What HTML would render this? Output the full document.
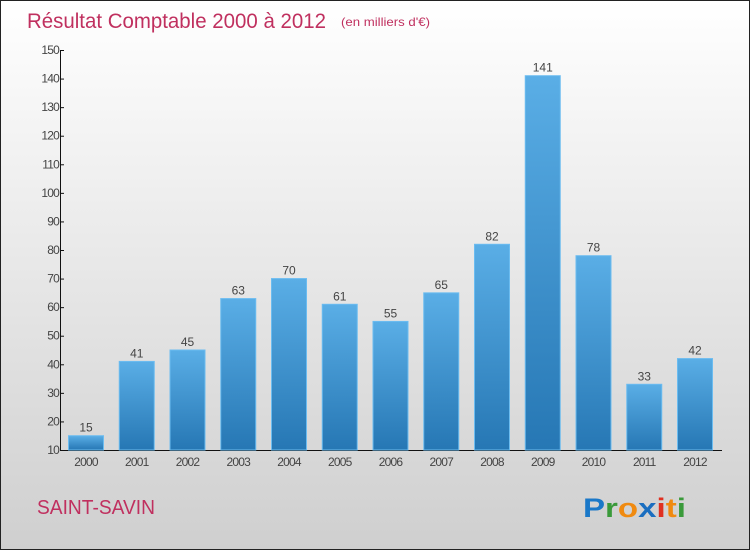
<!DOCTYPE html>
<html><head><meta charset="utf-8"><style>
html,body{margin:0;padding:0}
body{width:750px;height:550px;overflow:hidden;font-family:"Liberation Sans",sans-serif}
#wrap{position:relative;width:748px;height:548px;border:1px solid #222;background:linear-gradient(#ffffff,#cfcfcf)}
</style></head><body>
<div id="wrap">
<svg id="chart" width="748" height="548">
<defs>
<linearGradient id="bg" x1="0" y1="0" x2="0" y2="1"><stop offset="0" stop-color="#5aaee6"/><stop offset="1" stop-color="#2677b4"/></linearGradient>
</defs>
<text x="26" y="27" font-size="21" fill="#c0305f" textLength="299" lengthAdjust="spacingAndGlyphs">Résultat Comptable 2000 à 2012</text>
<text x="340" y="25" font-size="12" fill="#c0305f" textLength="89" lengthAdjust="spacingAndGlyphs">(en milliers d'€)</text>
<text x="36" y="513" font-size="20" fill="#c0305f" textLength="118" lengthAdjust="spacingAndGlyphs">SAINT-SAVIN</text>
<g font-size="27" font-weight="bold">
<text x="582" y="516" textLength="103" lengthAdjust="spacingAndGlyphs"><tspan fill="#1a78c8">P</tspan><tspan fill="#3a9a3a">r</tspan><tspan fill="#f08a10">o</tspan><tspan fill="#1a6ec0">x</tspan><tspan fill="#e03020">i</tspan><tspan fill="#f08a10">t</tspan><tspan fill="#3a9a3a">i</tspan></text>
</g>
<g id="axes"></g>
<g id="bars"></g>
</svg>
</div>
<script>
const years=["2000","2001","2002","2003","2004","2005","2006","2007","2008","2009","2010","2011","2012"];
const values=[15,41,45,63,70,61,55,65,82,141,78,33,42];
const yTicks=[10,20,30,40,50,60,70,80,90,100,110,120,130,140,150];
const NS="http://www.w3.org/2000/svg";
const y0=449,yMin=10,yMax=150,yTop=49;
function yS(v){return y0-(v-yMin)/(yMax-yMin)*(y0-yTop);}
function xS(i){return 85+i*50.75;}
const axes=document.getElementById('axes'),bars=document.getElementById('bars');
function mk(tag,attrs,parent){const e=document.createElementNS(NS,tag);for(const k in attrs)e.setAttribute(k,attrs[k]);parent.appendChild(e);return e;}
let l=mk('line',{x1:59.5,y1:yTop,x2:59.5,y2:y0,stroke:'#111'},axes);


l=mk('line',{x1:59,y1:y0+0.5,x2:721,y2:y0+0.5,stroke:'#111'},axes);


yTicks.forEach(v=>{
  const t=mk('line',{x1:59,y1:yS(v)+0.5,x2:63,y2:yS(v)+0.5,stroke:'#111'},axes);
  
  
  const tx=mk('text',{x:58,y:yS(v)+4,'font-size':12,fill:'#444','text-anchor':'end','letter-spacing':'-0.8'},axes);
  tx.textContent=v;
  
  
});
years.forEach((yr,i)=>{
  const x=xS(i),v=values[i];
  const r=mk('rect',{x:x-17.5,y:yS(v),width:35,height:y0-yS(v),fill:'url(#bg)',stroke:'#6bbcf0','stroke-width':1},bars);
  
  
  const lb=mk('text',{x:x,y:yS(v)-4,'font-size':12,fill:'#444','text-anchor':'middle'},bars);
  lb.textContent=v;
  
  
  const xl=mk('text',{x:x,y:465,'font-size':12,fill:'#444','text-anchor':'middle','letter-spacing':'-0.8'},axes);
  xl.textContent=yr;
  
  
});
</script>
</body></html>
